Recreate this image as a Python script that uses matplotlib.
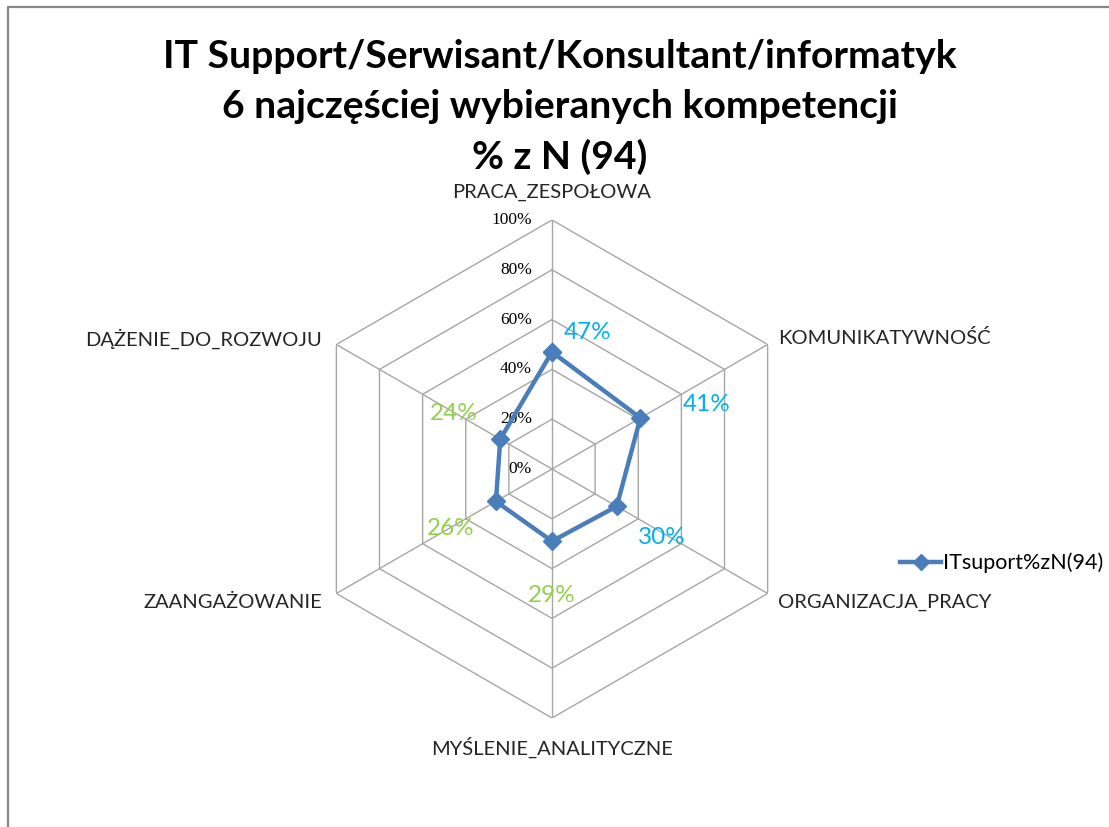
import numpy as np
import matplotlib.pyplot as plt
from matplotlib.lines import Line2D

# data
categories = ['PRACA_ZESPOŁOWA', 'KOMUNIKATYWNOŚĆ', 'ORGANIZACJA_PRACY',
              'MYŚLENIE_ANALITYCZNE', 'ZAANGAŻOWANIE', 'DĄŻENIE_DO_ROZWOJU']
values = [47, 41, 30, 29, 26, 24]
series_name = 'ITsuport%zN(94)'
ticks = [0, 20, 40, 60, 80, 100]
tick_labels = ['0%', '20%', '40%', '60%', '80%', '100%']
title = 'IT Support/Serwisant/Konsultant/informatyk\n6 najczęściej wybieranych kompetencji\n% z N (94)'

# styling
line_col = '#4A7EBB'
grid_col = '#A6A6A6'
label_cols = ['#00B0F0', '#00B0F0', '#00B0F0', '#92D050', '#92D050', '#92D050']
label_offsets = [(36, 19), (66, 13), (45, -31), (0, -54), (-45, -27), (-46, 26)]
cat_offsets = [(0, 28), (10, 6), (10, -9), (0, -29), (-14, -9), (-14, 6)]
cat_align = ['center', 'left', 'left', 'center', 'right', 'right']
sans = ['Lato', 'DejaVu Sans']

W, H = 1109, 827
fig = plt.figure(figsize=(W / 100, H / 100), dpi=100)
fig.patch.set_facecolor('white')

# outer frame (only left and top edges visible in the crop)
fx = 8 / W
fy = 1 - 7 / H
fig.add_artist(Line2D([fx, fx, 1.0], [0.0, fy, fy], transform=fig.transFigure,
                      color='#878787', lw=1.6))

cx, cy, R = 552, 469, 249
ax = fig.add_axes([(cx - R) / W, (H - cy - R) / H, 2 * R / W, 2 * R / H],
                  projection='polar')
ax.set_theta_zero_location('N')
ax.set_theta_direction(-1)
ax.set_ylim(0, 100)
ax.grid(False)
ax.spines['polar'].set_visible(False)
ax.set_xticks([])
ax.set_yticks([])
ax.patch.set_visible(False)

n = len(categories)
theta = np.linspace(0, 2 * np.pi, n, endpoint=False)
theta_c = np.append(theta, 2 * np.pi)

# hexagonal grid
for r in ticks[1:]:
    ax.plot(theta_c, [r] * (n + 1), color=grid_col, lw=1.0, zorder=1)
for t in theta:
    ax.plot([t, t], [0, 100], color=grid_col, lw=1.0, zorder=1)

# tick labels along the top spoke
for r, lab in zip(ticks, tick_labels):
    ax.annotate(lab, (0, r), xytext=(-20, 0), textcoords='offset pixels',
                ha='right', va='center', fontsize=12.5,
                family=['Liberation Serif', 'DejaVu Serif'], color='black')

# category labels
for t, cat, off, ha in zip(theta, categories, cat_offsets, cat_align):
    ax.annotate(cat, (t, 100), xytext=off, textcoords='offset pixels',
                ha=ha, va='center', fontsize=14.5, family=sans, color='#262626',
                annotation_clip=False)

# series
vals_c = values + values[:1]
ax.plot(theta_c, vals_c, color=line_col, lw=3.2, marker='D', ms=9.5,
        markerfacecolor=line_col, markeredgecolor=line_col, zorder=3,
        label=series_name, clip_on=False)

# data labels
for t, v, off, c in zip(theta, values, label_offsets, label_cols):
    ax.annotate(f'{v}%', (t, v), xytext=off, textcoords='offset pixels',
                ha='center', va='center', fontsize=17.5, family=sans, color=c)

# legend
leg = fig.legend(handles=[Line2D([], [], color=line_col, lw=3.2, marker='D', ms=8.5)],
                 labels=[series_name], loc='center left',
                 bbox_to_anchor=(881 / W, 1 - 563 / H), frameon=False,
                 handlelength=1.9, handletextpad=0.1,
                 prop={'family': sans, 'size': 15.5})

fig.text(0.505, 1 - 107 / H, title, ha='center', va='center',
         multialignment='center', fontsize=28.2, fontweight='bold',
         family=sans, linespacing=1.5)

fig.savefig('out.png', dpi=100, facecolor='white')
